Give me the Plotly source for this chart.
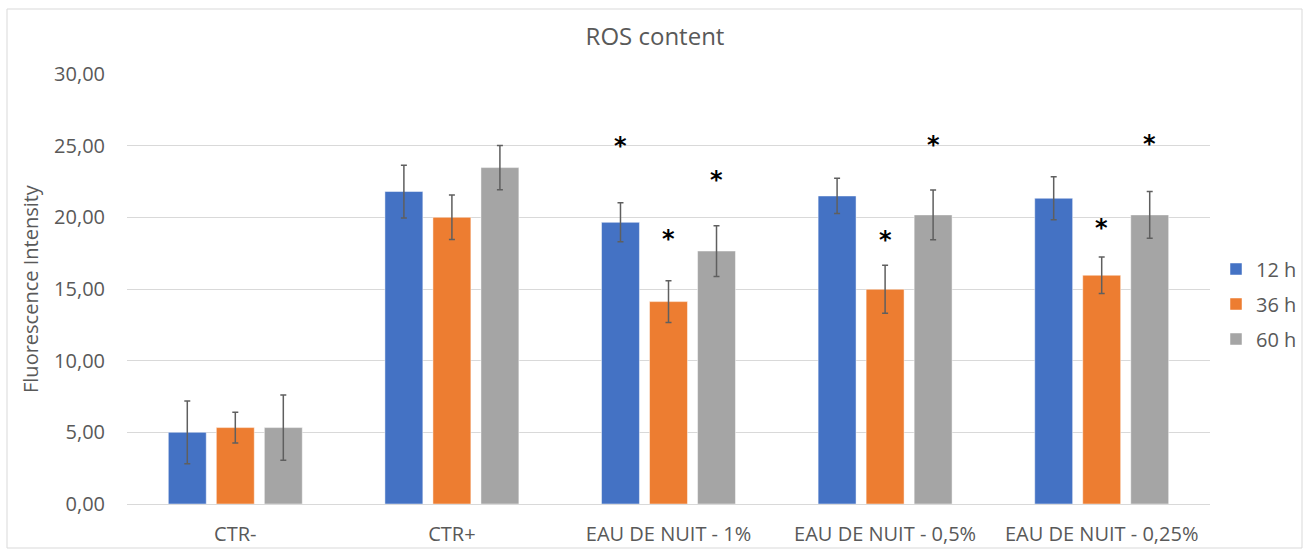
import plotly.graph_objects as go

categories = ["CTR-", "CTR+", "EAU DE NUIT - 1%", "EAU DE NUIT - 0,5%", "EAU DE NUIT - 0,25%"]
series_names = ["12 h", "36 h", "60 h"]
values_12h = [5.00, 21.80, 19.65, 21.49, 21.33]
values_36h = [5.33, 20.00, 14.12, 14.98, 15.96]
values_60h = [5.33, 23.47, 17.65, 20.17, 20.17]
err_12h = [2.19, 1.84, 1.36, 1.23, 1.50]
err_36h = [1.07, 1.55, 1.46, 1.68, 1.27]
err_60h = [2.27, 1.55, 1.77, 1.73, 1.63]
y_ticks = [0, 5, 10, 15, 20, 25, 30]
y_tick_labels = ["0,00", "5,00", "10,00", "15,00", "20,00", "25,00", "30,00"]

# significance asterisks: category index, series index, y position (data units)
star_cat = [2, 2, 2, 3, 3, 4, 4]
star_series = [0, 1, 2, 1, 2, 1, 2]
star_y = [25.2, 18.7, 22.8, 18.6, 25.25, 19.5, 25.35]

colors = ["#4472C4", "#ED7D31", "#A5A5A5"]
values = [values_12h, values_36h, values_60h]
errors = [err_12h, err_36h, err_60h]

W, H = 1304, 550
ML, MR, MT, MB = 127, 2, 74, 46
PLOT_RIGHT = 1210
PW = W - ML - MR
PH = H - MT - MB
DOM_R = (PLOT_RIGHT - ML) / PW
BARGAP = 0.335
BARGROUPGAP = 0.21

font_family = "Open Sans"
grey_text = "#595959"

fig = go.Figure()
xpos = list(range(len(categories)))
for k in range(3):
    fig.add_trace(go.Bar(
        x=xpos, y=values[k], name=series_names[k],
        marker=dict(color=colors[k], line=dict(color="rgba(255,255,255,0.6)", width=0.8)),
        error_y=dict(type="data", array=errors[k], color="#5f5f5f", thickness=1.5, width=3),
        legendgroup=series_names[k],
    ))

slot = (1 - BARGAP) / 3
annotations = []
for c, s, yv in zip(star_cat, star_series, star_y):
    annotations.append(dict(
        x=c + (s - 1) * slot, y=yv, xref="x", yref="y", text="<b>*</b>",
        showarrow=False, yanchor="middle", yshift=-3,
        font=dict(family="DejaVu Sans", size=24, color="#000000"),
    ))

annotations.append(dict(
    x=(30 - ML) / PW, y=0.5, xref="paper", yref="paper",
    text="Fluorescence Intensity", textangle=-90, showarrow=False,
    xanchor="center", yanchor="middle",
    font=dict(family=font_family, size=20, color=grey_text),
))

fig.update_layout(
    width=W, height=H,
    margin=dict(l=ML, r=MR, t=MT, b=MB, autoexpand=False),
    paper_bgcolor="white", plot_bgcolor="white",
    barmode="group", bargap=BARGAP, bargroupgap=BARGROUPGAP,
    title=dict(text="ROS content", x=655 / W, y=1 - 37 / H, xref="container", yref="container",
               xanchor="center", yanchor="middle",
               font=dict(family=font_family, size=24, color=grey_text)),
    font=dict(family=font_family, color=grey_text),
    legend=dict(x=(1216 - ML) / PW, y=(504 - 304) / PH, xanchor="left", yanchor="middle",
                font=dict(family=font_family, size=20, color=grey_text),
                tracegroupgap=6, bgcolor="rgba(0,0,0,0)"),
    annotations=annotations,
    xaxis=dict(domain=[0, DOM_R], tickmode="array", tickvals=xpos, ticktext=categories,
               range=[-0.5, len(categories) - 0.5], automargin=False,
               showgrid=False, showline=True, linecolor="#d9d9d9", linewidth=1,
               ticks="", ticklabelstandoff=12, zeroline=False,
               tickfont=dict(family=font_family, size=20, color=grey_text)),
    yaxis=dict(range=[0, 30], tickmode="array", tickvals=y_ticks, ticktext=y_tick_labels,
               automargin=False,
               showgrid=True, gridcolor="#d9d9d9", gridwidth=1, zeroline=False,
               showline=False, ticks="", ticklabelstandoff=21,
               tickfont=dict(family=font_family, size=20, color=grey_text)),
    shapes=[dict(type="rect", xref="paper", yref="paper",
                 x0=(7 - ML) / PW, x1=(1302 - ML) / PW,
                 y0=(MT + PH - 548) / PH, y1=(MT + PH - 9) / PH,
                 line=dict(color="#d9d9d9", width=1), fillcolor="rgba(0,0,0,0)", layer="below")],
)

fig.write_html("out.html", config={"displayModeBar": False},
               post_script="document.body.style.margin='0';document.body.style.overflow='hidden';")
